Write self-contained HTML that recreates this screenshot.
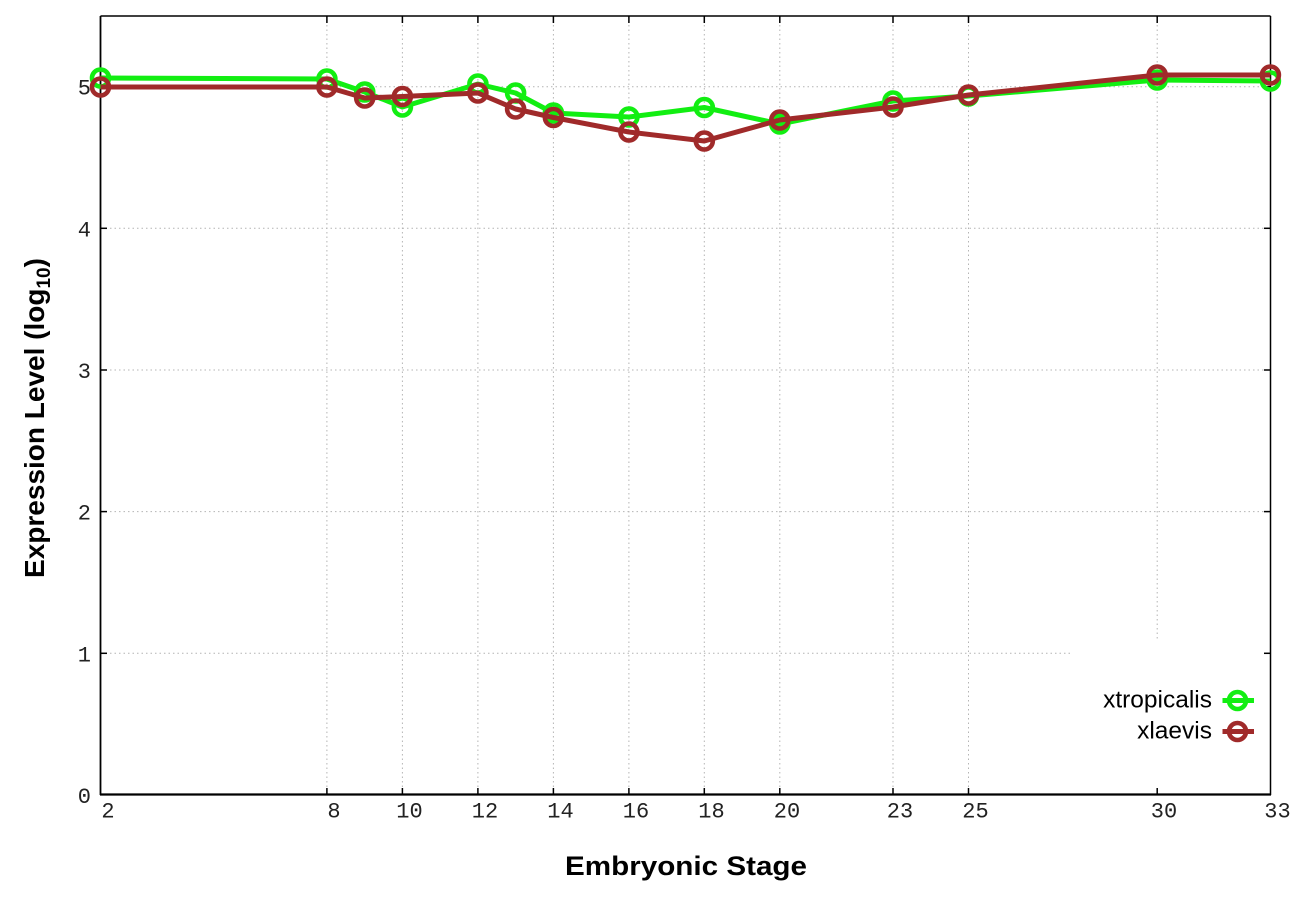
<!DOCTYPE html>
<html>
<head>
<meta charset="utf-8">
<style>
  html, body { margin:0; padding:0; background:#ffffff; }
  svg { display:block; }
</style>
</head>
<body>
<svg width="1296" height="907" viewBox="0 0 1296 907" xmlns="http://www.w3.org/2000/svg">
  <rect x="0" y="0" width="1296" height="907" fill="#ffffff"/>

  <!-- grid -->
  <g stroke="#b4b4b4" stroke-width="1" stroke-dasharray="1.5,3" fill="none">
    <line x1="101" y1="653.3" x2="1071" y2="653.3"/>
    <line x1="101" y1="511.6" x2="1270" y2="511.6"/>
    <line x1="101" y1="370" x2="1270" y2="370"/>
    <line x1="101" y1="228.3" x2="1270" y2="228.3"/>
    <line x1="101" y1="86.7" x2="1270" y2="86.7"/>
    <line x1="326.9" y1="16" x2="326.9" y2="795"/>
    <line x1="402.4" y1="16" x2="402.4" y2="795"/>
    <line x1="477.9" y1="16" x2="477.9" y2="795"/>
    <line x1="553.4" y1="16" x2="553.4" y2="795"/>
    <line x1="628.9" y1="16" x2="628.9" y2="795"/>
    <line x1="704.3" y1="16" x2="704.3" y2="795"/>
    <line x1="779.8" y1="16" x2="779.8" y2="795"/>
    <line x1="893" y1="16" x2="893" y2="795"/>
    <line x1="968.5" y1="16" x2="968.5" y2="795"/>
    <line x1="1157.2" y1="16" x2="1157.2" y2="641"/>
  </g>

  <!-- axes frame -->
  <g stroke="#000" fill="none">
    <line x1="100.5" y1="16" x2="1270.5" y2="16" stroke-width="1.5"/>
    <line x1="100.5" y1="16" x2="100.5" y2="795" stroke-width="1.8"/>
    <line x1="1270.5" y1="16" x2="1270.5" y2="795" stroke-width="1.5"/>
    <line x1="100" y1="794.5" x2="1271" y2="794.5" stroke-width="2.2"/>
  </g>

  <!-- ticks -->
  <g stroke="#000" stroke-width="1.5">
    <line x1="100" y1="653.3" x2="107" y2="653.3"/>
    <line x1="100" y1="511.6" x2="107" y2="511.6"/>
    <line x1="100" y1="370" x2="107" y2="370"/>
    <line x1="100" y1="228.3" x2="107" y2="228.3"/>
    <line x1="100" y1="86.7" x2="107" y2="86.7"/>
    <line x1="1264" y1="653.3" x2="1270" y2="653.3"/>
    <line x1="1264" y1="511.6" x2="1270" y2="511.6"/>
    <line x1="1264" y1="370" x2="1270" y2="370"/>
    <line x1="1264" y1="228.3" x2="1270" y2="228.3"/>
    <line x1="1264" y1="86.7" x2="1270" y2="86.7"/>
  </g>
  <g stroke="#000" stroke-width="1.5">
    <line x1="326.9" y1="795" x2="326.9" y2="788"/><line x1="326.9" y1="16" x2="326.9" y2="23"/>
    <line x1="402.4" y1="795" x2="402.4" y2="788"/><line x1="402.4" y1="16" x2="402.4" y2="23"/>
    <line x1="477.9" y1="795" x2="477.9" y2="788"/><line x1="477.9" y1="16" x2="477.9" y2="23"/>
    <line x1="553.4" y1="795" x2="553.4" y2="788"/><line x1="553.4" y1="16" x2="553.4" y2="23"/>
    <line x1="628.9" y1="795" x2="628.9" y2="788"/><line x1="628.9" y1="16" x2="628.9" y2="23"/>
    <line x1="704.3" y1="795" x2="704.3" y2="788"/><line x1="704.3" y1="16" x2="704.3" y2="23"/>
    <line x1="779.8" y1="795" x2="779.8" y2="788"/><line x1="779.8" y1="16" x2="779.8" y2="23"/>
    <line x1="893" y1="795" x2="893" y2="788"/><line x1="893" y1="16" x2="893" y2="23"/>
    <line x1="968.5" y1="795" x2="968.5" y2="788"/><line x1="968.5" y1="16" x2="968.5" y2="23"/>
    <line x1="1157.2" y1="795" x2="1157.2" y2="788"/><line x1="1157.2" y1="16" x2="1157.2" y2="23"/>
  </g>

  <!-- y tick labels -->
  <g font-family="'Liberation Mono', 'DejaVu Sans Mono', monospace" font-size="22" fill="#222" text-anchor="end">
    <text x="91" y="803">0</text>
    <text x="91" y="661.3">1</text>
    <text x="91" y="519.6">2</text>
    <text x="91" y="378">3</text>
    <text x="91" y="236.3">4</text>
    <text x="91" y="94.7">5</text>
  </g>

  <!-- x tick labels -->
  <g font-family="'Liberation Mono', 'DejaVu Sans Mono', monospace" font-size="22" fill="#222" text-anchor="middle">
    <text x="108" y="817.5">2</text>
    <text x="334" y="817.5">8</text>
    <text x="409.5" y="817.5">10</text>
    <text x="485" y="817.5">12</text>
    <text x="560.5" y="817.5">14</text>
    <text x="636" y="817.5">16</text>
    <text x="711.5" y="817.5">18</text>
    <text x="787" y="817.5">20</text>
    <text x="900" y="817.5">23</text>
    <text x="975.5" y="817.5">25</text>
    <text x="1164" y="817.5">30</text>
    <text x="1277.5" y="817.5">33</text>
  </g>

  <!-- axis titles -->
  <text x="686" y="875" font-family="'Liberation Sans', Arial, sans-serif" font-weight="bold" font-size="27" text-anchor="middle" fill="#000" textLength="242" lengthAdjust="spacingAndGlyphs">Embryonic Stage</text>
  <text transform="translate(44,418) rotate(-90)" font-family="'Liberation Sans', Arial, sans-serif" font-weight="bold" font-size="28" text-anchor="middle" fill="#000">Expression Level (log<tspan font-size="19" dy="6">10</tspan><tspan dy="-6">)</tspan></text>

  <!-- xtropicalis (green) -->
  <g stroke="#12ee12" stroke-width="5" fill="none" stroke-linejoin="round">
    <polyline points="100.5,78 326.9,79 364.7,92 402.4,107 477.9,84 515.6,93 553.4,113 628.9,117 704.3,107.5 779.8,124 893,101 968.5,96 1157.2,80 1270.4,81"/>
    <g stroke-width="4.6">
      <circle cx="100.5" cy="78" r="8.5"/>
      <circle cx="326.9" cy="79" r="8.5"/>
      <circle cx="364.7" cy="92" r="8.5"/>
      <circle cx="402.4" cy="107" r="8.5"/>
      <circle cx="477.9" cy="84" r="8.5"/>
      <circle cx="515.6" cy="93" r="8.5"/>
      <circle cx="553.4" cy="113" r="8.5"/>
      <circle cx="628.9" cy="117" r="8.5"/>
      <circle cx="704.3" cy="107.5" r="8.5"/>
      <circle cx="779.8" cy="124" r="8.5"/>
      <circle cx="893" cy="101" r="8.5"/>
      <circle cx="968.5" cy="96" r="8.5"/>
      <circle cx="1157.2" cy="80" r="8.5"/>
      <circle cx="1270.4" cy="81" r="8.5"/>
    </g>
  </g>

  <!-- xlaevis (brown) -->
  <g stroke="#a02a2a" stroke-width="5" fill="none" stroke-linejoin="round">
    <polyline points="100.5,87 326.9,87 364.7,98 402.4,96.5 477.9,93 515.6,109 553.4,117.5 628.9,132 704.3,141 779.8,120 893,107 968.5,95 1157.2,75 1270.4,75"/>
    <g stroke-width="4.6">
      <circle cx="100.5" cy="87" r="8.5"/>
      <circle cx="326.9" cy="87" r="8.5"/>
      <circle cx="364.7" cy="98" r="8.5"/>
      <circle cx="402.4" cy="96.5" r="8.5"/>
      <circle cx="477.9" cy="93" r="8.5"/>
      <circle cx="515.6" cy="109" r="8.5"/>
      <circle cx="553.4" cy="117.5" r="8.5"/>
      <circle cx="628.9" cy="132" r="8.5"/>
      <circle cx="704.3" cy="141" r="8.5"/>
      <circle cx="779.8" cy="120" r="8.5"/>
      <circle cx="893" cy="107" r="8.5"/>
      <circle cx="968.5" cy="95" r="8.5"/>
      <circle cx="1157.2" cy="75" r="8.5"/>
      <circle cx="1270.4" cy="75" r="8.5"/>
    </g>
  </g>

  <!-- legend -->
  <g font-family="'Liberation Sans', Arial, sans-serif" font-size="24.5" fill="#000" text-anchor="end">
    <text x="1212" y="707.5">xtropicalis</text>
    <text x="1212" y="738.5">xlaevis</text>
  </g>
  <g fill="none">
    <line x1="1222.5" y1="700.5" x2="1254" y2="700.5" stroke="#12ee12" stroke-width="5"/>
    <circle cx="1237.5" cy="700.5" r="8.5" stroke="#12ee12" stroke-width="4.6"/>
    <line x1="1222.5" y1="731.5" x2="1254" y2="731.5" stroke="#a02a2a" stroke-width="5"/>
    <circle cx="1237.5" cy="731.5" r="8.5" stroke="#a02a2a" stroke-width="4.6"/>
  </g>
</svg>
</body>
</html>
